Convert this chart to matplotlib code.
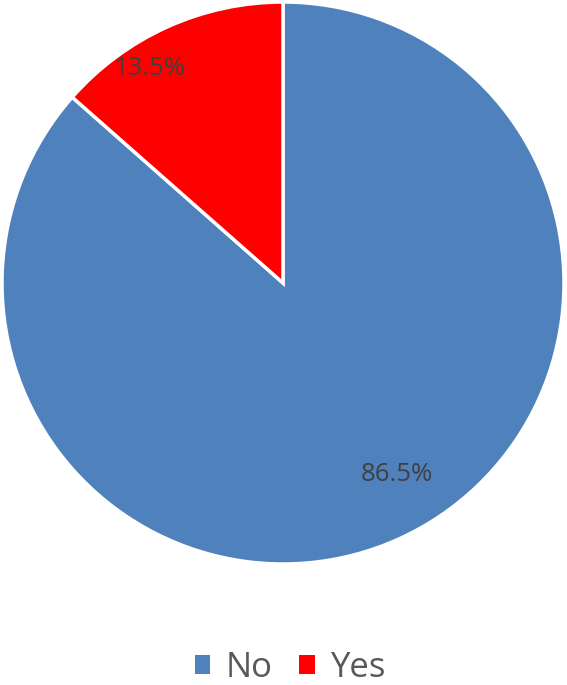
import matplotlib
matplotlib.use("Agg")
from matplotlib import pyplot as plt
from matplotlib.patches import Patch

categories = ["No", "Yes"]
shares = [86.5, 13.5]
colors = ["#4F81BD", "#FF0000"]

# label anchor points (fraction of radius), as placed in the original chart
label_pos = [(0.406, -0.680), (-0.473, 0.765)]

plt.rcParams["font.family"] = ["Open Sans", "DejaVu Sans"]

fig = plt.figure(figsize=(5.67, 6.85), dpi=100)
# pie area: centre ~ (283, 283) px from top, radius ~ 281 px
ax = fig.add_axes([2 / 567, (685 - 564) / 685, 562 / 567, 562 / 685])

wedges, texts, autotexts = ax.pie(
    shares,
    colors=colors,
    startangle=90,
    counterclock=False,
    autopct="%1.1f%%",
    wedgeprops=dict(edgecolor="white", linewidth=2.5),
    textprops=dict(fontsize=18.5, color="#404040"),
)
for t, pos in zip(autotexts, label_pos):
    t.set_position(pos)

ax.set_aspect("equal")
ax.set_xlim(-1.0, 1.0)
ax.set_ylim(-1.0, 1.0)

handles = [Patch(facecolor=c, edgecolor="none") for c in colors]
fig.legend(
    handles,
    categories,
    loc="center",
    bbox_to_anchor=(0.512, 1 - 668 / 685),
    ncol=2,
    frameon=False,
    fontsize=25,
    labelcolor="#595959",
    handlelength=0.45,
    handleheight=0.45,
    handletextpad=0.45,
    columnspacing=0.75,
)

fig.savefig("out.png", dpi=100)
